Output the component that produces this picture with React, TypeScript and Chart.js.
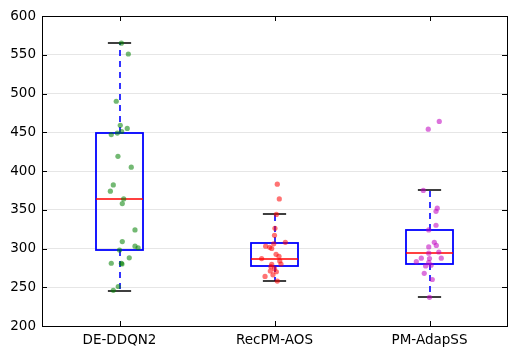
import React, { useEffect, useRef } from "react";
import { Chart, registerables } from "chart.js";

Chart.register(...registerables);

const categories = ["DE-DDQN2", "RecPM-AOS", "PM-AdapSS"];
const whiskerLow = [245, 258, 237];
const q1 = [298, 277.5, 280];
const median = [364, 286.5, 294];
const q3 = [449, 307, 324];
const whiskerHigh = [565, 344.5, 375.5];
const yTicks = [200, 250, 300, 350, 400, 450, 500, 550, 600];

// [jitter offset, value]
const pointsDE: [number, number][] = [
  [0.012, 565], [0.057, 551], [-0.021, 490], [0.005, 459], [0.05, 455], [0.014, 451],
  [-0.014, 449], [-0.053, 447], [-0.01, 419], [0.076, 405], [-0.04, 382], [-0.059, 374],
  [0.027, 364], [0.018, 358], [0.1, 324], [0.018, 309], [0.1, 303], [0.12, 301],
  [0, 298], [0.063, 288], [-0.053, 281], [0.012, 281], [0.016, 280], [-0.008, 251],
  [-0.04, 246],
];
const pointsRec: [number, number][] = [
  [0.018, 383], [0.031, 364], [0.012, 344], [0.003, 326], [0, 317], [0.07, 308],
  [-0.005, 306], [-0.057, 303], [-0.031, 301.5], [-0.018, 300], [0.01, 292.5], [0.029, 290],
  [-0.083, 287], [0.034, 284], [0.042, 280], [-0.018, 279.5], [-0.023, 276.5], [0, 274],
  [-0.027, 271], [0.012, 270], [-0.01, 266], [-0.061, 264], [0.018, 258],
];
const pointsPM: [number, number][] = [
  [0.063, 464], [-0.008, 454], [-0.04, 375], [0.05, 352], [0.042, 348], [0.042, 330],
  [-0.005, 324], [0.031, 308], [0.044, 304], [-0.005, 302], [-0.005, 294], [0.06, 295.5],
  [-0.053, 287.5], [0, 287], [0.076, 287.5], [-0.085, 283], [-0.005, 282], [-0.025, 277.5],
  [0.01, 278.5], [-0.034, 268], [0.018, 260], [0, 237],
];
const pointSets = [pointsDE, pointsRec, pointsPM];
const pointColors = ["rgba(0,128,0,0.55)", "rgba(255,0,0,0.55)", "rgba(191,0,191,0.55)"];

const boxHalf = 0.15;
const capHalf = 0.075;

const boxPlugin = {
  id: "boxes",
  beforeDatasetsDraw(chart: any) {
    const { ctx, scales } = chart;
    const xs = scales.x;
    const ys = scales.y;
    ctx.save();
    for (let i = 0; i < categories.length; i++) {
      const c = i + 1;
      const xl = Math.round(xs.getPixelForValue(c - boxHalf));
      const xr = Math.round(xs.getPixelForValue(c + boxHalf));
      const xc = Math.round(xs.getPixelForValue(c));
      const cl = xs.getPixelForValue(c - capHalf);
      const cr = xs.getPixelForValue(c + capHalf);
      const yq1 = Math.round(ys.getPixelForValue(q1[i]));
      const yq3 = Math.round(ys.getPixelForValue(q3[i]));
      const ym = Math.round(ys.getPixelForValue(median[i]));
      const ylo = Math.round(ys.getPixelForValue(whiskerLow[i]));
      const yhi = Math.round(ys.getPixelForValue(whiskerHigh[i]));
      // whiskers
      ctx.strokeStyle = "#0000ff";
      ctx.lineWidth = 1.6;
      ctx.setLineDash([6, 5]);
      ctx.beginPath();
      ctx.moveTo(xc, yq3);
      ctx.lineTo(xc, yhi);
      ctx.moveTo(xc, yq1);
      ctx.lineTo(xc, ylo);
      ctx.stroke();
      ctx.setLineDash([]);
      // box
      ctx.lineWidth = 1.8;
      ctx.strokeRect(xl, yq3, xr - xl, yq1 - yq3);
      // median
      ctx.strokeStyle = "#ff0000";
      ctx.lineWidth = 1.6;
      ctx.beginPath();
      ctx.moveTo(xl, ym);
      ctx.lineTo(xr, ym);
      ctx.stroke();
      // caps
      ctx.strokeStyle = "#000000";
      ctx.lineWidth = 1.6;
      ctx.beginPath();
      ctx.moveTo(cl, yhi);
      ctx.lineTo(cr, yhi);
      ctx.moveTo(cl, ylo);
      ctx.lineTo(cr, ylo);
      ctx.stroke();
    }
    ctx.restore();
  },
  afterDatasetsDraw(chart: any) {
    const { ctx, chartArea, scales } = chart;
    const { left, right, top, bottom } = chartArea;
    ctx.save();
    ctx.strokeStyle = "#000000";
    ctx.lineWidth = 1;
    const tl = 5;
    ctx.beginPath();
    for (const v of yTicks) {
      const y = Math.round(scales.y.getPixelForValue(v)) + 0.5;
      ctx.moveTo(left, y);
      ctx.lineTo(left + tl, y);
      ctx.moveTo(right, y);
      ctx.lineTo(right - tl, y);
    }
    for (let i = 0; i < categories.length; i++) {
      const x = Math.round(scales.x.getPixelForValue(i + 1)) + 0.5;
      ctx.moveTo(x, bottom);
      ctx.lineTo(x, bottom - tl);
      ctx.moveTo(x, top);
      ctx.lineTo(x, top + tl);
    }
    ctx.stroke();
    ctx.strokeRect(Math.round(left) + 0.5, Math.round(top) + 0.5, Math.round(right - left), Math.round(bottom - top));
    ctx.restore();
  },
};

export default function App() {
  const ref = useRef<HTMLCanvasElement>(null);
  useEffect(() => {
    document.body.style.margin = "0";
    const canvas = ref.current!;
    const chart = new Chart(canvas, {
      type: "scatter",
      data: {
        datasets: pointSets.map((pts, i) => ({
          label: categories[i],
          data: pts.map(([dx, v]) => ({ x: i + 1 + dx, y: v })),
          backgroundColor: pointColors[i],
          borderWidth: 0,
          pointRadius: 2.6,
        })),
      },
      options: {
        animation: false,
        responsive: false,
        devicePixelRatio: 1,
        layout: { padding: { top: 16, right: 10, left: 0, bottom: 0 } },
        plugins: { legend: { display: false }, tooltip: { enabled: false } },
        scales: {
          x: {
            type: "linear",
            min: 0.5,
            max: 3.5,
            afterBuildTicks: (scale: any) => {
              scale.ticks = categories.map((_, i) => ({ value: i + 1 }));
            },
            afterFit: (scale: any) => {
              scale.height = 30;
            },
            ticks: {
              callback: (v: any) => categories[Math.round(Number(v)) - 1] ?? "",
              color: "#000000",
              font: { family: "DejaVu Sans", size: 13.5 },
              padding: 6,
              maxRotation: 0,
              autoSkip: false,
            },
            grid: { display: false, drawTicks: false },
            border: { display: false },
          },
          y: {
            min: 200,
            max: 600,
            afterBuildTicks: (scale: any) => {
              scale.ticks = yTicks.map((v) => ({ value: v }));
            },
            afterFit: (scale: any) => {
              scale.width = 42;
            },
            ticks: {
              color: "#000000",
              font: { family: "DejaVu Sans", size: 13.5 },
              padding: 6,
            },
            grid: { color: "#e6e6e6", drawTicks: false, lineWidth: 1 },
            border: { display: false },
          },
        },
      },
      plugins: [boxPlugin],
    });
    return () => chart.destroy();
  }, []);
  return (
    <div style={{ width: 517, height: 356 }}>
      <canvas ref={ref} width={517} height={356} style={{ display: "block" }} />
    </div>
  );
}
